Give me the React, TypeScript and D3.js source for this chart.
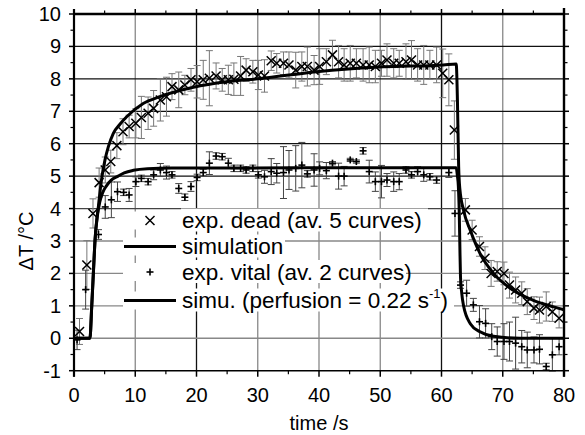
import React from "react";
import * as d3 from "d3";

// ---- data ----
const xTicks = [0, 10, 20, 30, 40, 50, 60, 70, 80];
const yTicks = [-1, 0, 1, 2, 3, 4, 5, 6, 7, 8, 9, 10];

const deadT = [0.9, 2.1, 3.1, 4.1, 5.1, 6.0, 7.0, 8.0, 9.0, 10.1, 11.0, 12.1, 13.0, 14.1, 15.1, 16.0, 17.1, 18.1, 19.1, 20.1, 21.1, 22.1, 23.2, 24.2, 25.2, 26.1, 27.2, 28.1, 29.2, 30.1, 31.1, 32.2, 33.1, 34.2, 35.1, 36.2, 37.2, 38.1, 39.2, 40.1, 41.2, 42.2, 43.2, 44.1, 45.1, 46.1, 47.2, 48.2, 49.2, 50.2, 51.1, 52.2, 53.1, 54.2, 55.1, 56.1, 57.1, 58.1, 59.2, 60.2, 61.2, 62.1, 63.9, 65.0, 66.2, 67.1, 68.1, 69.1, 70.2, 71.1, 72.1, 73.1, 74.0, 75.1, 76.0, 77.1, 78.1, 79.2];
const deadV = [0.21, 2.26, 3.85, 4.8, 5.19, 5.45, 5.94, 6.37, 6.53, 6.63, 6.81, 6.94, 7.09, 7.35, 7.45, 7.76, 7.66, 7.81, 7.97, 7.91, 7.97, 8.02, 8.09, 7.97, 7.97, 7.99, 8.09, 8.27, 8.22, 8.12, 8.09, 8.56, 8.48, 8.48, 8.43, 8.27, 8.38, 8.38, 8.27, 8.38, 8.53, 8.74, 8.53, 8.43, 8.48, 8.48, 8.43, 8.43, 8.38, 8.48, 8.58, 8.48, 8.48, 8.53, 8.58, 8.43, 8.43, 8.43, 8.43, 8.17, 7.97, 6.42, 3.96, 3.34, 2.83, 2.47, 2.0, 2.06, 2.0, 1.64, 1.49, 1.39, 1.13, 0.93, 0.87, 0.98, 0.82, 0.62];
const deadE = [0.4, 0.75, 0.45, 0.45, 0.4, 0.35, 0.4, 0.4, 0.35, 0.45, 0.65, 0.5, 0.55, 0.65, 0.6, 0.4, 0.55, 0.3, 0.35, 0.5, 0.6, 0.85, 0.4, 0.35, 0.45, 0.5, 0.6, 0.35, 0.35, 0.45, 0.5, 0.3, 0.3, 0.35, 0.4, 0.55, 0.45, 0.6, 0.45, 0.55, 0.4, 0.45, 0.5, 0.5, 0.55, 0.45, 0.5, 0.55, 0.5, 0.4, 0.5, 0.45, 0.4, 0.55, 0.6, 0.5, 0.6, 0.45, 0.55, 0.75, 0.8, 0.9, 0.35, 0.3, 0.3, 0.35, 0.4, 0.3, 0.35, 0.4, 0.4, 0.35, 0.4, 0.35, 0.4, 0.45, 0.3, 0.3];

const vitalT = [0.5, 1.9, 4.0, 5.1, 6.1, 7.1, 8.1, 9.0, 10.1, 11.0, 12.1, 13.0, 14.1, 15.1, 16.0, 17.1, 18.1, 19.1, 20.1, 21.1, 22.1, 23.2, 24.2, 25.2, 26.1, 27.2, 28.1, 29.2, 30.1, 31.1, 32.2, 33.1, 34.2, 35.1, 36.2, 37.2, 38.1, 39.2, 40.1, 41.2, 42.2, 43.2, 44.1, 45.1, 46.1, 47.2, 48.2, 49.2, 50.2, 51.1, 52.2, 53.1, 54.2, 55.1, 56.1, 57.1, 58.1, 59.2, 61.2, 62.2, 63.1, 64.1, 65.2, 66.2, 67.2, 68.2, 69.1, 70.2, 71.1, 72.1, 73.1, 74.0, 75.1, 76.0, 77.1, 78.1, 79.2];
const vitalV = [-0.05, 1.5, 3.2, 4.05, 4.27, 4.52, 4.5, 4.42, 4.83, 4.93, 4.83, 5.04, 5.19, 5.11, 5.04, 4.62, 4.35, 4.68, 4.96, 5.11, 5.4, 5.62, 5.6, 5.4, 5.24, 5.24, 5.19, 5.24, 5.04, 4.98, 5.14, 5.09, 5.11, 5.19, 5.24, 5.34, 5.07, 5.19, 5.24, 5.17, 5.4, 5.0, 5.0, 5.5, 5.45, 5.78, 5.14, 4.83, 4.83, 4.88, 4.83, 4.83, 5.19, 5.04, 5.14, 5.04, 4.98, 4.88, 5.11, 3.85, 1.64, 1.39, 1.03, 0.51, 0.46, 0.05, -0.1, -0.1, -0.1, -0.15, -0.26, -0.36, -0.36, -0.34, -0.87, -0.51, -0.26];
const vitalE = [0.3, 0.6, 0.15, 0.35, 0.55, 0.3, 0.1, 0.2, 0.15, 0.1, 0.1, 0.15, 0.2, 0.2, 0.1, 0.15, 0.1, 0.15, 0.1, 0.1, 0.35, 0.1, 0.1, 0.15, 0.1, 0.1, 0.1, 0.1, 0.1, 0.2, 0.4, 0.3, 0.8, 0.6, 0.7, 0.7, 0.1, 0.5, 0.2, 0.25, 0.05, 0.4, 0.3, 0.05, 0.05, 0.1, 0.35, 0.3, 0.5, 0.2, 0.3, 0.25, 0.1, 0.1, 0.15, 0.2, 0.1, 0.1, 0.15, 0.7, 0.1, 0.4, 0.2, 0.5, 0.45, 0.4, 0.45, 0.55, 0.6, 0.8, 0.5, 0.55, 0.4, 0.45, 0.1, 0.5, 0.25];

const simDeadT = [0, 2.6, 2.89, 3.16, 3.43, 4.0, 4.5, 5.06, 5.6, 6.42, 7.5, 8.6, 11.3, 14, 19.5, 24.9, 30.4, 39.6, 50.5, 60.3, 62.4, 62.6, 62.8, 63.0, 63.6, 64.7, 66.3, 68.5, 71.7, 75, 78.3, 80];
const simDeadV = [0, 0, 0.97, 2.0, 3.02, 4.1, 4.9, 5.5, 5.9, 6.32, 6.6, 6.83, 7.24, 7.45, 7.74, 7.91, 8.01, 8.22, 8.37, 8.43, 8.46, 7.35, 5.3, 4.6, 3.95, 3.33, 2.61, 2.0, 1.48, 1.17, 0.97, 0.88];

const simVitalT = [0, 2.6, 2.89, 3.16, 3.43, 3.8, 4.2, 4.7, 5.3, 6.0, 7.2, 8.2, 9.7, 12, 16, 62.4, 62.6, 62.75, 62.9, 63.0, 63.1, 63.3, 63.6, 64.7, 66.3, 68.5, 72.8, 80];
const simVitalV = [0, 0, 0.97, 2.0, 3.02, 3.75, 4.2, 4.5, 4.7, 4.86, 5.0, 5.1, 5.18, 5.23, 5.25, 5.26, 5.0, 4.7, 3.85, 2.82, 1.9, 1.4, 1.0, 0.45, 0.2, 0.06, 0.0, 0.0];

const legendLabels = ["exp. dead (av. 5 curves)", "simulation", "exp. vital (av. 2 curves)", "simu. (perfusion = 0.22 s"];

const FONT = "'Liberation Sans', Arial, Helvetica, sans-serif";

export default function App() {
  const W = 585, H = 435;
  const x = d3.scaleLinear().domain([0, 80]).range([74, 564]);
  const y = d3.scaleLinear().domain([-1, 10]).range([370.7, 14]);

  const line = d3
    .line<[number, number]>()
    .x((d) => x(d[0]))
    .y((d) => y(d[1]))
    .curve(d3.curveMonotoneX);

  const simDead = line(simDeadT.map((t, i) => [t, simDeadV[i]]) as [number, number][]) || "";
  const simVital = line(simVitalT.map((t, i) => [t, simVitalV[i]]) as [number, number][]) || "";

  const xMinor = d3.range(5, 80, 10);
  const yMinor = d3.range(-0.5, 10, 1);

  const blackV = new Set([20, 60]);
  const darkH = new Set([5, 6, 7, 8, 9]);

  const cap = 3.5;
  const errBar = (t: number, v: number, e: number, color: string, key: string) => (
    <g key={key} stroke={color} strokeWidth={1}>
      <line x1={x(t)} x2={x(t)} y1={y(v - e)} y2={y(v + e)} />
      <line x1={x(t) - cap} x2={x(t) + cap} y1={y(v - e)} y2={y(v - e)} />
      <line x1={x(t) - cap} x2={x(t) + cap} y1={y(v + e)} y2={y(v + e)} />
    </g>
  );
  const cross = (cx: number, cy: number, key: string, s = 4.5) => (
    <g key={key} stroke="#000" strokeWidth={1.5}>
      <line x1={cx - s} x2={cx + s} y1={cy - s} y2={cy + s} />
      <line x1={cx - s} x2={cx + s} y1={cy + s} y2={cy - s} />
    </g>
  );
  const plus = (cx: number, cy: number, key: string, s = 3.5) => (
    <g key={key} stroke="#000" strokeWidth={1.6}>
      <line x1={cx - s} x2={cx + s} y1={cy} y2={cy} />
      <line x1={cx} x2={cx} y1={cy - s} y2={cy + s} />
    </g>
  );

  const legRows = [220.5, 246.5, 272, 300.5];
  const legText = [428, 285, 406, 454];

  return (
    <div style={{ position: "absolute", left: 0, top: 0 }}>
      <svg width={W} height={H} viewBox={`0 0 ${W} ${H}`} style={{ display: "block", background: "#fff" }} fontFamily={FONT}>
        <rect x={0} y={0} width={W} height={H} fill="#fff" />
        {/* grid */}
        {xTicks.filter((t) => t > 0 && t < 80).map((t) => (
          <line key={"gx" + t} x1={x(t)} x2={x(t)} y1={y(10)} y2={y(-1)} stroke={blackV.has(t) ? "#111" : "#888"} strokeWidth={1.3} />
        ))}
        {yTicks.filter((t) => t > -1 && t < 10).map((t) => (
          <line key={"gy" + t} x1={x(0)} x2={x(80)} y1={y(t)} y2={y(t)} stroke={darkH.has(t) ? "#111" : t === 4 ? "#444" : "#888"} strokeWidth={1.3} />
        ))}

        {/* legend backgrounds */}
        {legRows.map((cy, i) => (
          <g key={"lb" + i}>
            <rect x={123} y={cy - 9} width={58} height={18} fill="#fff" />
            <rect x={181} y={cy - 12} width={legText[i] - 181} height={23} fill="#fff" />
          </g>
        ))}

        {/* error bars */}
        {deadT.map((t, i) => errBar(t, deadV[i], deadE[i], "#777", "de" + i))}
        {vitalT.map((t, i) => errBar(t, vitalV[i], vitalE[i], "#444", "ve" + i))}

        {/* simulation curves */}
        <path d={simDead} fill="none" stroke="#000" strokeWidth={3} strokeLinejoin="round" />
        <path d={simVital} fill="none" stroke="#000" strokeWidth={3} strokeLinejoin="round" />

        {/* markers */}
        {deadT.map((t, i) => cross(x(t), y(deadV[i]), "dm" + i))}
        {vitalT.map((t, i) => plus(x(t), y(vitalV[i]), "vm" + i))}

        {/* axes frame */}
        <line x1={x(0)} x2={x(80)} y1={y(10)} y2={y(10)} stroke="#000" strokeWidth={2.6} />
        <line x1={x(0)} x2={x(80)} y1={y(-1)} y2={y(-1)} stroke="#000" strokeWidth={1.6} />
        <line x1={x(0)} x2={x(0)} y1={y(10) - 5} y2={y(-1) + 6} stroke="#000" strokeWidth={2.2} />
        <line x1={x(80)} x2={x(80)} y1={y(10) - 6} y2={y(-1) + 6} stroke="#000" strokeWidth={2.4} />

        {/* ticks */}
        {xTicks.map((t) => (
          <g key={"xt" + t} stroke="#000" strokeWidth={1.5}>
            <line x1={x(t)} x2={x(t)} y1={y(-1)} y2={y(-1) + 6} />
            <line x1={x(t)} x2={x(t)} y1={y(10)} y2={y(10) - 5} />
          </g>
        ))}
        {xMinor.map((t) => (
          <g key={"xm" + t} stroke="#000" strokeWidth={1.2}>
            <line x1={x(t)} x2={x(t)} y1={y(-1)} y2={y(-1) + 3.5} />
            <line x1={x(t)} x2={x(t)} y1={y(10)} y2={y(10) - 3.5} />
          </g>
        ))}
        {yTicks.map((t) => (
          <g key={"yt" + t} stroke="#000" strokeWidth={1.5}>
            <line x1={x(0) - 5} x2={x(0)} y1={y(t)} y2={y(t)} />
            <line x1={x(80)} x2={x(80) + 5} y1={y(t)} y2={y(t)} />
          </g>
        ))}
        {yMinor.map((t) => (
          <g key={"ym" + t} stroke="#000" strokeWidth={1.2}>
            <line x1={x(0) - 3.5} x2={x(0)} y1={y(t)} y2={y(t)} />
            <line x1={x(80)} x2={x(80) + 3.5} y1={y(t)} y2={y(t)} />
          </g>
        ))}

        {/* tick labels */}
        {xTicks.map((t) => (
          <text key={"xl" + t} x={x(t)} y={402} textAnchor="middle" fontSize={20} fill="#000">
            {t}
          </text>
        ))}
        {yTicks.map((t) => (
          <text key={"yl" + t} x={61} y={y(t) + 7} textAnchor="end" fontSize={20} fill="#000">
            {t}
          </text>
        ))}

        {/* axis titles */}
        <text x={x(40)} y={430} textAnchor="middle" fontSize={20} fill="#000">
          time /s
        </text>
        <text transform={`translate(33, ${y(3)}) rotate(-90)`} textAnchor="middle" fontSize={20} fill="#000">
          ΔT /°C
        </text>

        {/* legend */}
        {cross(150, legRows[0], "lg0", 4.5)}
        <line x1={124} x2={176} y1={legRows[1]} y2={legRows[1]} stroke="#000" strokeWidth={3} />
        {plus(150, legRows[2], "lg2", 3.5)}
        <line x1={124} x2={176} y1={legRows[3]} y2={legRows[3]} stroke="#000" strokeWidth={3} />
        {legendLabels.map((s, i) => (
          <text key={"lt" + i} x={182} y={legRows[i] + 7.5} fontSize={22.5} fill="#000">
            {s}
            {i === 3 ? (
              <>
                <tspan fontSize={13} dy={-10}>-1</tspan>
                <tspan dy={10}>)</tspan>
              </>
            ) : null}
          </text>
        ))}
      </svg>
    </div>
  );
}
